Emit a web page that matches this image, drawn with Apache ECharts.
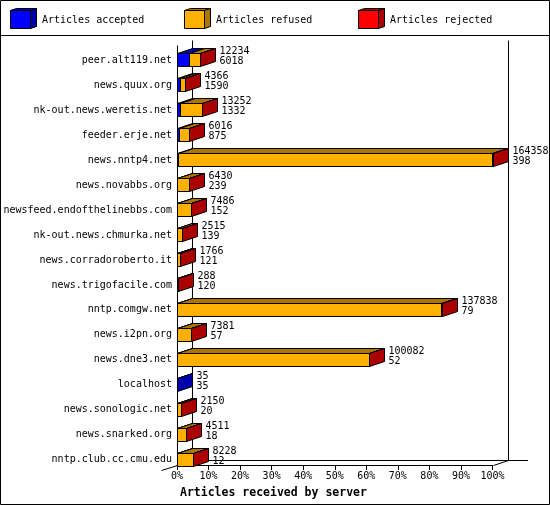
<!DOCTYPE html>
<html>
<head>
<meta charset="utf-8">
<title>Articles received by server</title>
<style>
  html, body { margin: 0; padding: 0; background: #fff; }
  #main { width: 550px; height: 505px; }
</style>
</head>
<body>
<div id="main"></div>
<script src="https://cdn.jsdelivr.net/npm/echarts@6.0.0/dist/echarts.min.js"></script>
<script>
// data (top label = offered, bottom label = accepted)
var servers = ['peer.alt119.net', 'news.quux.org', 'nk-out.news.weretis.net', 'feeder.erje.net',
  'news.nntp4.net', 'news.novabbs.org', 'newsfeed.endofthelinebbs.com', 'nk-out.news.chmurka.net',
  'news.corradoroberto.it', 'news.trigofacile.com', 'nntp.comgw.net', 'news.i2pn.org',
  'news.dne3.net', 'localhost', 'news.sonologic.net', 'news.snarked.org', 'nntp.club.cc.cmu.edu'];
var offered  = [12234, 4366, 13252, 6016, 164358, 6430, 7486, 2515, 1766, 288, 137838, 7381, 100082, 35, 2150, 4511, 8228];
var accepted = [6018, 1590, 1332, 875, 398, 239, 152, 139, 121, 120, 79, 57, 52, 35, 20, 18, 12];
// rejected is too small to see on the front faces, only the red side faces show it is there
var rejected = [12, 6, 20, 8, 150, 5, 9, 3, 2, 1, 60, 4, 45, 0, 2, 3, 6];
var refused  = offered.map(function (o, i) { return o - accepted[i] - rejected[i]; });
var legendNames = ['Articles accepted', 'Articles refused', 'Articles rejected'];

var maxOffered = Math.max.apply(null, offered);
var FRONT = ['#0000ff', '#ffb000', '#ff0000'];
var DARK  = ['#0000aa', '#aa7600', '#aa0000'];
var DX = 15, DY = 5;          // depth of the 3d boxes
var FONT = 'DejaVu Sans Mono';

var chart = echarts.init(document.getElementById('main'));

function renderItem(params, api) {
  var i = api.value(0);
  var counts = [api.value(2), api.value(3), api.value(4)];
  var base = api.coord([0, i]);
  var cy = Math.round(base[1]);
  var top = cy - 6.5, bot = cy + 6.5;
  var x = Math.round(base[0]) + 0.5;
  var sum = 0, last = 0, kids = [];
  for (var k = 0; k < 3; k++) {
    if (counts[k] <= 0) continue;
    sum += counts[k];
    var x1 = Math.round(api.coord([sum / maxOffered * 100, i])[0]) + 0.5;
    kids.push({ type: 'polygon', shape: { points: [[x, top], [x1, top], [x1 + DX, top - DY], [x + DX, top - DY]] },
      style: { fill: DARK[k], stroke: '#000', lineWidth: 1 } });
    kids.push({ type: 'rect', shape: { x: x, y: top, width: x1 - x, height: bot - top },
      style: { fill: FRONT[k], stroke: '#000', lineWidth: 1 } });
    x = x1;
    last = k;
  }
  // side face, coloured like the last segment
  kids.push({ type: 'polygon', shape: { points: [[x, top], [x + DX, top - DY], [x + DX, bot - DY], [x, bot]] },
    style: { fill: DARK[last], stroke: '#000', lineWidth: 1 } });
  kids.push({ type: 'text', x: x + DX + 4, y: cy - 8.5,
    style: { text: String(api.value(1)), fill: '#000', font: '10px ' + FONT, align: 'left', verticalAlign: 'middle' } });
  kids.push({ type: 'text', x: x + DX + 4, y: cy + 1.5,
    style: { text: String(api.value(2)), fill: '#000', font: '10px ' + FONT, align: 'left', verticalAlign: 'middle' } });
  return { type: 'group', children: kids };
}

chart.setOption({
  animation: false,
  backgroundColor: '#fff',
  title: {
    text: 'Articles received by server',
    left: 180, top: 487, padding: 0,
    textStyle: { fontFamily: FONT, fontSize: 11.5, fontWeight: 'bold', color: '#000' }
  },
  grid: { left: 177, right: 57.5, top: 48, bottom: 33 },
  xAxis: {
    type: 'value', min: 0, max: 100, interval: 10, offset: -7,
    axisLine: { show: true, lineStyle: { color: '#000', width: 1 } },
    axisTick: { show: true, length: 5, lineStyle: { color: '#000' } },
    axisLabel: { formatter: '{value}%', margin: 6, color: '#000', fontFamily: FONT, fontSize: 10 },
    splitLine: { show: false }
  },
  yAxis: {
    type: 'category', inverse: true, data: servers,
    axisLine: { show: false }, axisTick: { show: false },
    axisLabel: { margin: 5, color: '#000', fontFamily: FONT, fontSize: 10 }
  },
  series: [{
    type: 'custom',
    z: 5,
    renderItem: renderItem,
    encode: { y: 0, x: 1 },
    data: servers.map(function (s, i) { return [i, offered[i], accepted[i], refused[i], rejected[i]]; })
  }]
});

// frame, 3d floor and legend
var x0 = Math.round(chart.convertToPixel({ xAxisIndex: 0 }, 0)) + 0.5;
var x100 = Math.round(chart.convertToPixel({ xAxisIndex: 0 }, 100)) + 0.5;
var floorY = 465.5;
var topY = 40.5;
var lineStyle = { stroke: '#000', lineWidth: 1 };
function seg(a, b, c, d) {
  return { type: 'line', z: 1, shape: { x1: a, y1: b, x2: c, y2: d }, style: lineStyle };
}
var els = [
  { type: 'rect', z: 1, shape: { x: 0.5, y: 0.5, width: 549, height: 504 }, style: { fill: 'none', stroke: '#000', lineWidth: 1 } },
  seg(0, 35.5, 550, 35.5),
  seg(x0, topY + DY, x0, floorY),
  seg(x0 + DX, topY, x0 + DX, floorY - DY),
  seg(x100 + DX, topY, x100 + DX, floorY - DY),
  seg(x0 + DX, floorY - DY, 528, floorY - DY),
  seg(x0 - 16, floorY + DY, x0, floorY),
  seg(x100, floorY, x100 + DX, floorY - DY)
];
legendNames.forEach(function (name, k) {
  var lx = 10.5 + k * 174, ly = 10.5;
  els.push({ type: 'polygon', z: 1, shape: { points: [[lx, ly], [lx + 20, ly], [lx + 26, ly - 2], [lx + 6, ly - 2]] },
    style: { fill: DARK[k], stroke: '#000', lineWidth: 1 } });
  els.push({ type: 'polygon', z: 1, shape: { points: [[lx + 20, ly], [lx + 26, ly - 2], [lx + 26, ly + 16], [lx + 20, ly + 18]] },
    style: { fill: DARK[k], stroke: '#000', lineWidth: 1 } });
  els.push({ type: 'rect', z: 1, shape: { x: lx, y: ly, width: 20, height: 18 },
    style: { fill: FRONT[k], stroke: '#000', lineWidth: 1 } });
  els.push({ type: 'text', z: 1, x: lx + 31.5, y: 20,
    style: { text: name, fill: '#000', font: '10px ' + FONT, align: 'left', verticalAlign: 'middle' } });
});
chart.setOption({ graphic: { elements: els } });
</script>
</body>
</html>
